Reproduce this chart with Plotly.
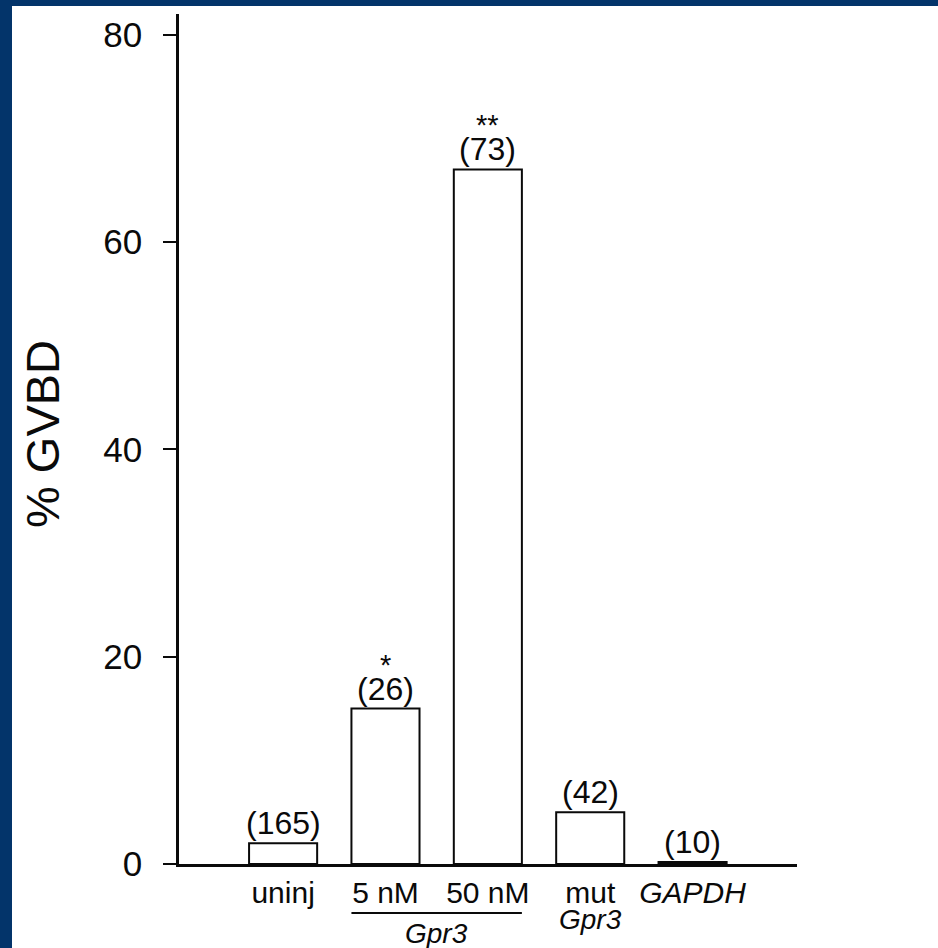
import plotly.graph_objects as go

categories = ["uninj", "5 nM", "50 nM", "mut", "GAPDH"]
tick_labels = ["uninj", "5 nM", "50 nM", "mut", "<i>GAPDH</i>"]
gvbd_pct = [2.0, 15.0, 67.0, 5.0, 0.2]
n_oocytes = ["(165)", "(26)", "(73)", "(42)", "(10)"]
significance = ["", "*", "**", "", ""]
y_ticks = [0, 20, 40, 60, 80]
group_label = "Gpr3"

FONT = "Liberation Sans, Arial, Helvetica, sans-serif"
BLUE = "#03346a"
INK = "#0a0a0a"

W, H = 938, 948
L, R, T, B = 179, 141, 14, 84
pw, ph = W - L - R, H - T - B

def px_x(p):
    return (p - L) / pw

def px_y(p):
    return (H - B - p) / ph

xs = list(range(len(categories)))

fig = go.Figure()
fig.add_trace(go.Bar(
    x=xs, y=gvbd_pct,
    marker=dict(color="white", line=dict(color=INK, width=2)),
    width=0.665,
    hoverinfo="skip",
))

annotations = []
for i, (v, n, s) in enumerate(zip(gvbd_pct, n_oocytes, significance)):
    annotations.append(dict(x=i, y=v, xref="x", yref="y", text=n, showarrow=False,
                            yanchor="bottom", yshift=0,
                            font=dict(family=FONT, size=32, color=INK)))
    if s:
        annotations.append(dict(x=i, y=v, xref="x", yref="y", text=s, showarrow=False,
                                yanchor="bottom", yshift=26,
                                font=dict(family=FONT, size=29, color=INK)))

# second-line labels
annotations.append(dict(x=3, y=px_y(919), xref="x", yref="paper", text="<i>" + group_label + "</i>",
                        showarrow=False, yanchor="middle",
                        font=dict(family=FONT, size=28, color=INK)))
annotations.append(dict(x=1.5, y=px_y(934), xref="x", yref="paper", text="<i>" + group_label + "</i>",
                        showarrow=False, yanchor="middle",
                        font=dict(family=FONT, size=28, color=INK)))
# y-axis title
annotations.append(dict(x=px_x(42), y=px_y(434), xref="paper", yref="paper", text="% GVBD",
                        textangle=-90, showarrow=False, xanchor="center", yanchor="middle",
                        font=dict(family=FONT, size=47, color=INK)))

shapes = [
    # white panel over blue frame
    dict(type="rect", xref="paper", yref="paper", layer="below",
         x0=px_x(12), x1=px_x(W + 5), y0=px_y(H + 5), y1=px_y(6),
         fillcolor="white", line=dict(width=0)),
    # group bracket under 5 nM / 50 nM
    dict(type="line", xref="x", yref="paper",
         x0=1 - 0.3325, x1=2 + 0.3325, y0=px_y(913), y1=px_y(913),
         line=dict(color=INK, width=2)),
]

fig.update_layout(
    width=W, height=H,
    margin=dict(l=L, r=R, t=T, b=B, pad=0),
    paper_bgcolor=BLUE,
    plot_bgcolor="white",
    showlegend=False,
    annotations=annotations,
    shapes=shapes,
    font=dict(family=FONT, color=INK),
    xaxis=dict(
        range=[-1.017, 5.02],
        tickmode="array", tickvals=xs, ticktext=tick_labels,
        ticks="", showgrid=False, zeroline=False,
        showline=True, linecolor=INK, linewidth=2.5,
        tickfont=dict(family=FONT, size=30, color=INK),
        ticklabelstandoff=0,
        fixedrange=True,
    ),
    yaxis=dict(
        range=[0, 82],
        tickmode="array", tickvals=y_ticks,
        ticks="outside", ticklen=13, tickwidth=2, tickcolor=INK,
        showgrid=False, zeroline=False,
        showline=True, linecolor=INK, linewidth=2.5,
        tickfont=dict(family=FONT, size=35, color=INK),
        ticklabelstandoff=14,
        fixedrange=True,
    ),
)

fig.write_html(
    "out.html",
    config={"displayModeBar": False},
    post_script="document.body.style.margin='0';document.body.style.overflow='hidden';",
)
